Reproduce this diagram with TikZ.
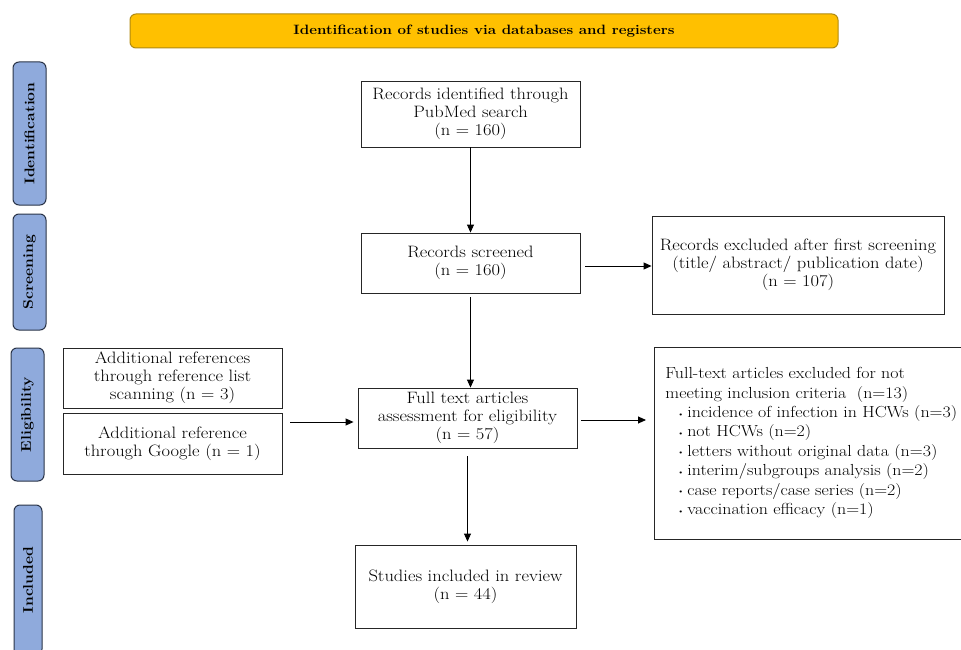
\documentclass[tikz,border=0pt]{standalone}
\usepackage{fontspec}
\setmainfont{Latin Modern Roman}[FakeStretch=1.12]
\usetikzlibrary{arrows.meta}
\definecolor{bannerfill}{HTML}{FFC000}
\definecolor{bannerline}{HTML}{B08A10}
\definecolor{sidefill}{HTML}{8FAADC}
\definecolor{sideline}{HTML}{2A3448}
\tikzset{
  box/.style={draw=black!85, line width=0.9pt, fill=white, align=center, inner sep=2pt,
    font=\fontsize{16.5}{18}\selectfont},
  side/.style={draw=sideline, line width=1pt, fill=sidefill, rounded corners=6pt},
  sidetext/.style={rotate=90, font=\fontsize{14}{16}\selectfont\bfseries},
  arr/.style={line width=0.9pt, -{Triangle[length=8pt,width=7pt]}},
}
\newcommand{\bul}{\\\hspace*{12pt}\raisebox{1.5pt}{\scriptsize\textbullet}\hspace{3pt}}
\begin{document}
\begin{tikzpicture}[x=1pt,y=-1pt]
\clip (0,0) rectangle (961,650);
\fill[white] (0,0) rectangle (961,650);
% banner
\node[draw=bannerline, fill=bannerfill, line width=1pt, rounded corners=6pt,
  minimum width=708, minimum height=34, font=\fontsize{13.5}{15}\selectfont\bfseries]
  (banner) at (484,31) {Identification of studies via databases and registers};
% side labels
\node[side, minimum width=33, minimum height=143] (sid) at (29.5,133.5) {};
\node[sidetext] (sidt) at (sid.center) {Identification};
\node[side, minimum width=33, minimum height=116] (ssc) at (29.5,272) {};
\node[sidetext] (ssct) at (ssc.center) {Screening};
\node[side, minimum width=33, minimum height=133] (sel) at (27.5,414.5) {};
\node[sidetext] (selt) at (sel.center) {Eligibility};
\node[side, minimum width=28, minimum height=150] (sin) at (28,580) {};
\node[sidetext] (sint) at (sin.center) {Included};
% main boxes
\node[box, minimum width=219, minimum height=66] (b1) at (470.5,114)
  {Records identified through\\PubMed search\\(n = 160)};
\node[box, minimum width=219, minimum height=60] (b2) at (470.5,263)
  {Records screened\\(n = 160)};
\node[box, minimum width=219, minimum height=60] (b3) at (467.5,418)
  {Full text articles\\assessment for eligibility\\(n = 57)};
\node[box, minimum width=221, minimum height=83] (b4) at (465.5,586.5)
  {Studies included in review\\(n = 44)};
% left boxes
\node[box, minimum width=219, minimum height=60] (la) at (172.5,378)
  {Additional references\\through reference list\\scanning (n = 3)};
\node[box, minimum width=219, minimum height=61] (lb) at (172.5,443.5)
  {Additional reference\\through Google (n = 1)};
% right boxes
\node[box, minimum width=292, minimum height=98] (r1) at (798,265)
  {Records excluded after first screening\\(title/ abstract/ publication date)\\(n = 107)};
\node[box, anchor=west, align=left, text width=300pt, inner xsep=11pt, minimum height=192,
  font=\fontsize{16}{19.4}\selectfont] (r2) at (654,443)
  {Full-text articles excluded for not\\meeting inclusion criteria \ (n=13)%
   \bul incidence of infection in HCWs (n=3)%
   \bul not HCWs (n=2)%
   \bul letters without original data (n=3)%
   \bul interim/subgroups analysis (n=2)%
   \bul case reports/case series (n=2)%
   \bul vaccination efficacy (n=1)};
% connectors
\draw[arr] (b1.south) -- (b2.north);
\draw[arr, shorten <=4pt] (b2.south) -- (b3.north -| b2.south);
\draw[arr, shorten <=8pt, shorten >=3pt] (b3.south) -- (b3.south |- b4.north);
\draw[arr, shorten <=5pt] (b2.east |- 0,266) -- (r1.west |- 0,266);
\draw[arr, shorten <=4pt, shorten >=8pt] (b3.east |- 0,420) -- (r2.west |- 0,420);
\draw[arr, shorten <=8pt, shorten >=4pt] (lb.east |- 0,422) -- (b3.west |- 0,422);
\end{tikzpicture}
\end{document}
